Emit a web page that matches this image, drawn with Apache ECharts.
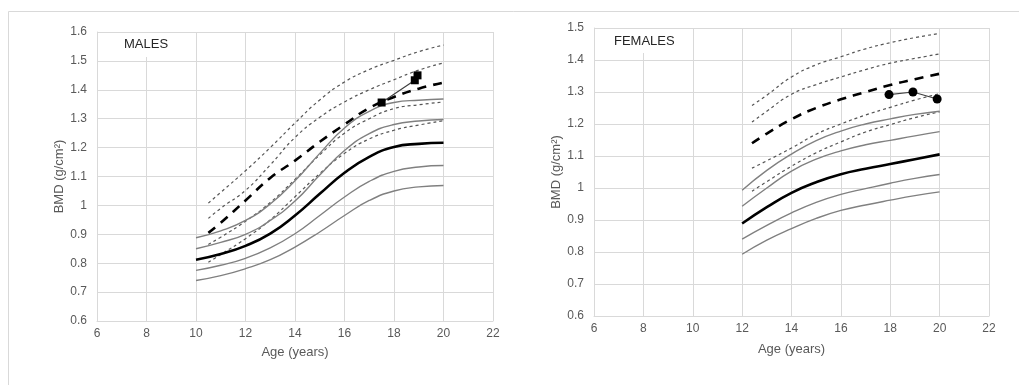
<!DOCTYPE html>
<html>
<head>
<meta charset="utf-8">
<script src="https://cdn.jsdelivr.net/npm/echarts@6/dist/echarts.min.js"></script>
<style>
  html, body { margin: 0; padding: 0; background: #fff; }
  #chart { width: 1019px; height: 385px; }
</style>
</head>
<body>
<div id="chart"></div>
<script>
// males: reference curves (solid from 10 y, dotted/dashed from 10.5 y)
var maleAges = [10, 11, 12, 13, 14, 15, 16, 17, 18, 19, 20]
var maleSd2 = [0.888, 0.912, 0.948, 1.005, 1.085, 1.18, 1.268, 1.325, 1.356, 1.364, 1.368]
var maleSd1 = [0.850, 0.872, 0.900, 0.948, 1.015, 1.105, 1.19, 1.248, 1.28, 1.292, 1.297]
var maleMean = [0.812, 0.832, 0.860, 0.902, 0.965, 1.04, 1.113, 1.168, 1.202, 1.213, 1.217]
var maleM1 = [0.775, 0.793, 0.817, 0.853, 0.902, 0.965, 1.029, 1.083, 1.118, 1.133, 1.138]
var maleM2 = [0.740, 0.757, 0.781, 0.812, 0.856, 0.908, 0.965, 1.017, 1.050, 1.064, 1.069]

var maleAgesB = [10.5, 11, 12, 13, 14, 15, 16, 17, 18, 19, 20]
var maleDotTop = [1.008, 1.045, 1.12, 1.2, 1.285, 1.365, 1.427, 1.47, 1.502, 1.532, 1.555]
var maleDot2 = [0.955, 0.99, 1.052, 1.14, 1.235, 1.305, 1.358, 1.40, 1.435, 1.468, 1.493]
var maleDash = [0.905, 0.94, 1.017, 1.095, 1.155, 1.22, 1.28, 1.337, 1.375, 1.404, 1.425]
var maleDot3 = [0.865, 0.89, 0.945, 1.01, 1.09, 1.175, 1.25, 1.30, 1.335, 1.348, 1.358]
var maleDot4 = [0.803, 0.83, 0.885, 0.95, 1.03, 1.11, 1.18, 1.23, 1.26, 1.278, 1.293]

var malePatientAge = [17.5, 18.84, 18.95]
var malePatientBmd = [1.356, 1.433, 1.45]

// females: solid from 12 y, dotted/dashed from 12.4 y
var femaleAges = [12, 13, 14, 15, 16, 17, 18, 19, 20]
var femaleSd2 = [0.993, 1.055, 1.106, 1.148, 1.178, 1.2, 1.216, 1.23, 1.24]
var femaleSd1 = [0.943, 1.0, 1.053, 1.09, 1.116, 1.135, 1.149, 1.163, 1.176]
var femaleMean = [0.889, 0.94, 0.985, 1.018, 1.043, 1.06, 1.075, 1.09, 1.105]
var femaleM1 = [0.84, 0.883, 0.922, 0.955, 0.98, 0.998, 1.015, 1.03, 1.042]
var femaleM2 = [0.793, 0.837, 0.873, 0.905, 0.93, 0.947, 0.962, 0.976, 0.988]

var femaleAgesB = [12.4, 13, 14, 15, 16, 17, 18, 19, 20]
var femaleDotTop = [1.258, 1.29, 1.347, 1.385, 1.41, 1.435, 1.454, 1.47, 1.483]
var femaleDot2 = [1.206, 1.24, 1.293, 1.323, 1.347, 1.37, 1.39, 1.405, 1.419]
var femaleDash = [1.14, 1.17, 1.215, 1.25, 1.277, 1.30, 1.322, 1.34, 1.357]
var femaleDot3 = [1.062, 1.085, 1.125, 1.168, 1.2, 1.228, 1.252, 1.275, 1.295]
var femaleDot4 = [0.99, 1.02, 1.068, 1.11, 1.144, 1.175, 1.198, 1.22, 1.238]

var femalePatientAge = [17.95, 18.92, 19.9]
var femalePatientBmd = [1.292, 1.30, 1.278]

function pairs(xs, ys) {
  return xs.map(function (x, i) { return [x, ys[i]] })
}

var gridColor = '#d9d9d9'
var labelColor = '#595959'
var font = 'Liberation Sans, Arial, sans-serif'

function curve(idx, xs, ys, kind) {
  var style
  if (kind === 'thin') style = { color: '#808080', width: 1.4, type: 'solid' }
  else if (kind === 'thick') style = { color: '#000', width: 2.6, type: 'solid' }
  else if (kind === 'dash') style = { color: '#000', width: 2.6, type: [9, 7] }
  else style = { color: '#555', width: 1.2, type: [3, 3] }
  return {
    type: 'line',
    xAxisIndex: idx,
    yAxisIndex: idx,
    data: pairs(xs, ys),
    smooth: true,
    symbol: 'none',
    lineStyle: style,
    z: 2
  }
}

function patient(idx, xs, ys, shape) {
  return {
    type: 'line',
    xAxisIndex: idx,
    yAxisIndex: idx,
    data: pairs(xs, ys),
    symbol: shape,
    symbolSize: shape === 'rect' ? 8 : 9,
    showSymbol: true,
    itemStyle: { color: '#000' },
    lineStyle: { color: '#404040', width: 1.2 },
    z: 5
  }
}

function xAxisOf(idx, gap) {
  return {
    type: 'value',
    gridIndex: idx,
    min: 6, max: 22, interval: 2,
    name: 'Age (years)',
    nameLocation: 'middle',
    nameGap: gap,
    nameTextStyle: { color: labelColor, fontSize: 13, fontFamily: font },
    axisLine: { lineStyle: { color: gridColor } },
    axisTick: { show: false },
    axisLabel: { color: labelColor, fontSize: 12, fontFamily: font, margin: 7 },
    splitLine: { show: true, lineStyle: { color: gridColor, width: 1 } }
  }
}

function yAxisOf(idx, max) {
  return {
    type: 'value',
    gridIndex: idx,
    min: 0.6, max: max, interval: 0.1,
    name: 'BMD (g/cm²)',
    nameLocation: 'middle',
    nameGap: 30,
    nameTextStyle: { color: labelColor, fontSize: 13, fontFamily: font },
    axisLine: { show: true, lineStyle: { color: gridColor } },
    axisTick: { show: false },
    axisLabel: {
      color: labelColor, fontSize: 12, fontFamily: font, margin: 10,
      formatter: function (v) { return String(Math.round(v * 10) / 10) }
    },
    splitLine: { show: true, lineStyle: { color: gridColor, width: 1 } }
  }
}

var chart = echarts.init(document.getElementById('chart'))
var option = {
  animation: false,
  backgroundColor: '#fff',
  grid: [
    { left: 97, top: 32, width: 396, height: 289 },
    { left: 594, top: 28, width: 395, height: 288 }
  ],
  xAxis: [xAxisOf(0, 25), xAxisOf(1, 27)],
  yAxis: [yAxisOf(0, 1.6), yAxisOf(1, 1.5)],
  graphic: [
    { type: 'line', shape: { x1: 8.5, y1: 11.5, x2: 1019, y2: 11.5 }, style: { stroke: '#d9d9d9', lineWidth: 1 } },
    { type: 'line', shape: { x1: 8.5, y1: 11.5, x2: 8.5, y2: 385 }, style: { stroke: '#d9d9d9', lineWidth: 1 } },
    { type: 'rect', shape: { x: 118, y: 33, width: 58, height: 24 }, style: { fill: '#fff' }, z: 10 },
    { type: 'text', x: 124, y: 38, style: { text: 'MALES', fill: '#262626', font: '13px ' + font }, z: 11 },
    { type: 'rect', shape: { x: 607, y: 29, width: 74, height: 24 }, style: { fill: '#fff' }, z: 10 },
    { type: 'text', x: 614, y: 35, style: { text: 'FEMALES', fill: '#262626', font: '13px ' + font }, z: 11 }
  ],
  series: [
    curve(0, maleAgesB, maleDotTop, 'dot'),
    curve(0, maleAgesB, maleDot2, 'dot'),
    curve(0, maleAgesB, maleDash, 'dash'),
    curve(0, maleAgesB, maleDot3, 'dot'),
    curve(0, maleAgesB, maleDot4, 'dot'),
    curve(0, maleAges, maleSd2, 'thin'),
    curve(0, maleAges, maleSd1, 'thin'),
    curve(0, maleAges, maleMean, 'thick'),
    curve(0, maleAges, maleM1, 'thin'),
    curve(0, maleAges, maleM2, 'thin'),
    patient(0, malePatientAge, malePatientBmd, 'rect'),
    curve(1, femaleAgesB, femaleDotTop, 'dot'),
    curve(1, femaleAgesB, femaleDot2, 'dot'),
    curve(1, femaleAgesB, femaleDash, 'dash'),
    curve(1, femaleAgesB, femaleDot3, 'dot'),
    curve(1, femaleAgesB, femaleDot4, 'dot'),
    curve(1, femaleAges, femaleSd2, 'thin'),
    curve(1, femaleAges, femaleSd1, 'thin'),
    curve(1, femaleAges, femaleMean, 'thick'),
    curve(1, femaleAges, femaleM1, 'thin'),
    curve(1, femaleAges, femaleM2, 'thin'),
    patient(1, femalePatientAge, femalePatientBmd, 'circle')
  ]
}
chart.setOption(option)
</script>
</body>
</html>
